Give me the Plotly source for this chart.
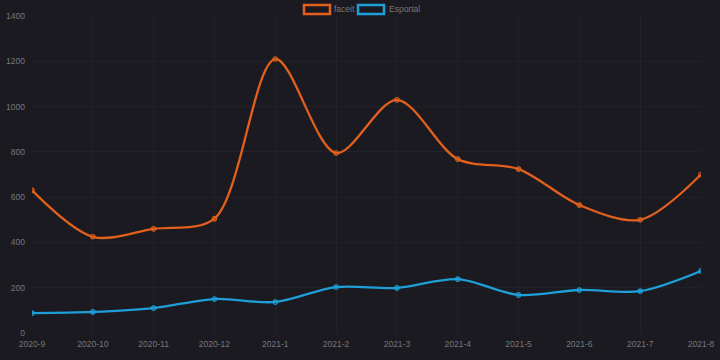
import plotly.graph_objects as go

months = ["2020-9", "2020-10", "2020-11", "2020-12", "2021-1", "2021-2",
          "2021-3", "2021-4", "2021-5", "2021-6", "2021-7", "2021-8"]
faceit = [630, 425, 460, 505, 1210, 795, 1030, 768, 724, 565, 500, 700]
esportal = [88, 93, 110, 150, 137, 203, 199, 238, 168, 190, 185, 274]
series_names = ["faceit", "Esportal"]

BG = "#1b1a20"
ORANGE = "#e2601d"
BLUE = "#1e9fd8"
TICK = "#77777b"
GRID = "rgba(255,255,255,0.03)"
FS = 8.5

W, H = 720, 360
ML, MR, MT, MB = 32, 19, 16, 27
PW, PH = W - ML - MR, H - MT - MB


def px(x):
    return (x - ML) / PW


def py(y):
    return (H - MB - y) / PH


fig = go.Figure()
for name, vals, col in zip(series_names, [faceit, esportal], [ORANGE, BLUE]):
    fig.add_trace(go.Scatter(
        x=months, y=vals, name=name, mode="lines+markers", showlegend=False,
        line=dict(color=col, width=2.3, shape="spline", smoothing=0.9),
        marker=dict(symbol="circle-open", size=4.5, color=col, line=dict(width=1.2, color=col)),
    ))

# Chart.js-style legend: bordered boxes + labels
legend_items = [(series_names[0], ORANGE, 304, 332), (series_names[1], BLUE, 358, 387)]
shapes, annots = [], []
for name, col, bx, tx in legend_items:
    shapes.append(dict(type="rect", xref="paper", yref="paper",
                       x0=px(bx), x1=px(bx + 26), y0=py(14), y1=py(5),
                       line=dict(color=col, width=2.5), fillcolor=BG, layer="above"))
    annots.append(dict(text=name, xref="paper", yref="paper", x=px(tx), y=py(9.5),
                       xanchor="left", yanchor="middle", showarrow=False,
                       font=dict(size=FS, color=TICK)))

fig.update_layout(
    width=W, height=H,
    paper_bgcolor=BG, plot_bgcolor=BG,
    margin=dict(l=ML, r=MR, t=MT, b=MB),
    font=dict(family="Liberation Sans, Arial, sans-serif", size=FS, color=TICK),
    showlegend=False,
    shapes=shapes, annotations=annots,
    xaxis=dict(type="category", range=[0, 11], showgrid=True, gridcolor=GRID,
               zeroline=False, showline=False, ticks="", automargin=False,
               tickfont=dict(size=FS, color=TICK), ticklabelstandoff=4),
    yaxis=dict(range=[0, 1400], dtick=200, showgrid=True, gridcolor=GRID,
               zeroline=False, showline=False, automargin=False,
               tickfont=dict(size=FS, color=TICK), ticklabelstandoff=6, tickformat="d"),
)

fig.write_html("out.html", config={"displayModeBar": False},
               post_script="document.body.style.margin='0';")
